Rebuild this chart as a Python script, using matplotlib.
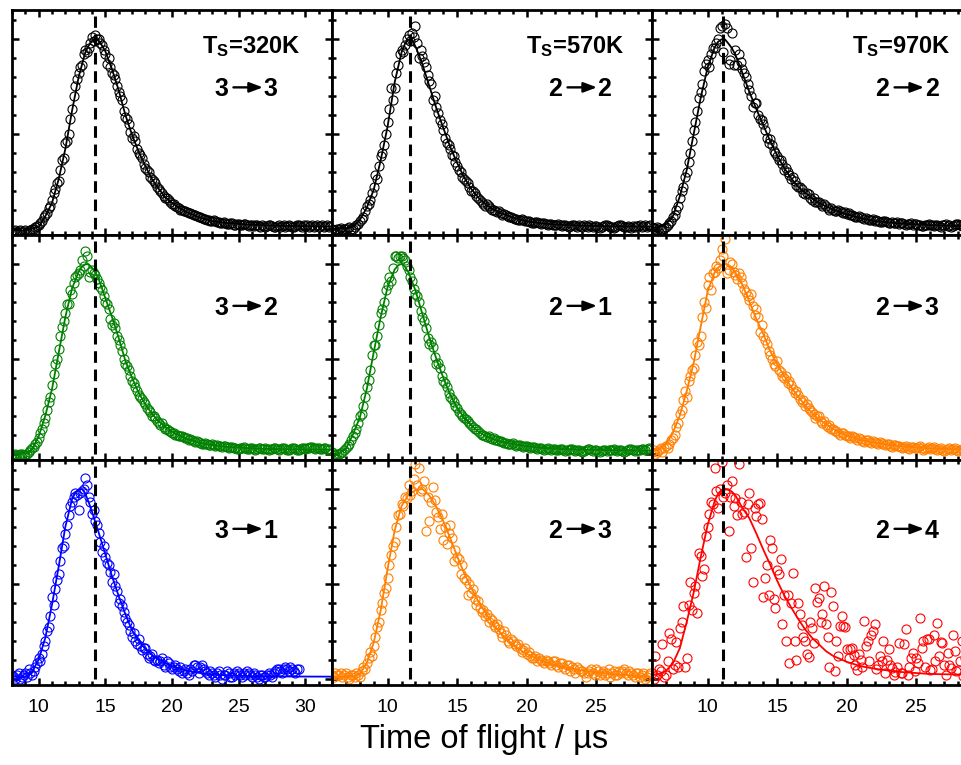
import numpy as np
import matplotlib.pyplot as plt
from matplotlib.ticker import MultipleLocator

plt.rcParams['font.family'] = ['Liberation Sans', 'DejaVu Sans']
plt.rcParams['mathtext.fontset'] = 'custom'
plt.rcParams['mathtext.bf'] = 'Liberation Sans:bold'
plt.rcParams['mathtext.rm'] = 'Liberation Sans'

# ---------------------------
# Layout per column (surface temperature)
# ---------------------------
col_temp = ["320K", "570K", "970K"]
col_xlim = [(8, 32), (6, 29), (6, 29)]
col_peak = [14.2, 11.6, 11.1]          # dashed reference line
col_t0 = [8.0, 6.0, 6.0]               # first time bin
bin_width = 0.125                      # us per time bin

# ---------------------------
# Ts = 320 K column
# ---------------------------
a_label = ("3", "3")
a_y = [
    -0.02, -0.015, -0.01, -0.02, -0.015, -0.01, -0.02, -0.015, -0.01, -0.02, -0.015, -0.005, 0.0, 0.0, 0.01, 0.015,
    0.02, 0.03, 0.04, 0.06, 0.07, 0.08, 0.11, 0.12, 0.15, 0.19, 0.21, 0.24, 0.25, 0.31, 0.36, 0.37,
    0.45, 0.46, 0.50, 0.58, 0.63, 0.70, 0.75, 0.79, 0.82, 0.85, 0.86, 0.92, 0.94, 0.93, 0.95, 0.98,
    1.01, 0.99, 1.02, 1.0, 1.00, 0.98, 0.97, 0.94, 0.92, 0.87, 0.90, 0.85, 0.82, 0.81, 0.79, 0.75,
    0.72, 0.70, 0.68, 0.62, 0.59, 0.58, 0.55, 0.51, 0.48, 0.49, 0.46, 0.42, 0.40, 0.39, 0.37, 0.34,
    0.32, 0.31, 0.30, 0.27, 0.26, 0.25, 0.24, 0.22, 0.21, 0.20, 0.19, 0.17, 0.16, 0.16, 0.15, 0.14,
    0.13, 0.13, 0.12, 0.115, 0.11, 0.10, 0.10, 0.095, 0.09, 0.085, 0.08, 0.08, 0.075, 0.07, 0.07, 0.065,
    0.06, 0.06, 0.055, 0.05, 0.05, 0.045, 0.045, 0.04, 0.04, 0.045, 0.04, 0.035, 0.035, 0.03, 0.03, 0.035,
    0.03, 0.025, 0.025, 0.03, 0.03, 0.02, 0.02, 0.025, 0.025, 0.02, 0.02, 0.025, 0.025, 0.02, 0.015, 0.02,
    0.02, 0.015, 0.02, 0.02, 0.015, 0.01, 0.02, 0.015, 0.01, 0.015, 0.02, 0.02, 0.015, 0.01, 0.01, 0.015,
    0.02, 0.01, 0.015, 0.02, 0.01, 0.015, 0.02, 0.015, 0.01, 0.01, 0.015, 0.02, 0.02, 0.015, 0.01, 0.02,
    0.015, 0.02, 0.01, 0.015, 0.02, 0.01, 0.015, 0.02, 0.01, 0.015, 0.02, 0.01, 0.015, 0.02, 0.01, 0.015,
]
a_fit_t = [8, 9, 9.5, 10, 10.5, 11, 11.5, 12, 12.5, 13, 13.5, 13.75, 14, 14.25, 14.5, 14.75,
           15, 15.5, 16, 16.5, 17, 17.5, 18, 18.5, 19, 19.5, 20, 21, 22, 23, 24, 26, 28, 32]
a_fit_y = [-0.01, -0.01, 0.0, 0.01, 0.065, 0.135, 0.26, 0.42, 0.62, 0.80, 0.93, 0.965, 0.99, 1.0,
           0.99, 0.965, 0.935, 0.84, 0.73, 0.60, 0.495, 0.405, 0.33, 0.26, 0.21, 0.165, 0.135,
           0.09, 0.06, 0.04, 0.03, 0.02, 0.015, 0.01]

d_label = ("3", "2")
d_y = [
    -0.01, -0.005, 0.0, -0.01, -0.01, 0.0, 0.0, -0.005, -0.005, 0.0, 0.01, 0.02, 0.03, 0.035, 0.05, 0.06,
    0.08, 0.11, 0.13, 0.16, 0.19, 0.23, 0.27, 0.30, 0.36, 0.42, 0.47, 0.50, 0.55, 0.62, 0.67, 0.70,
    0.74, 0.79, 0.79, 0.86, 0.84, 0.90, 0.93, 0.94, 0.95, 0.97, 1.02, 0.99, 1.07, 1.04, 0.93, 0.96,
    0.97, 0.95, 0.94, 0.92, 0.90, 0.88, 0.86, 0.83, 0.80, 0.79, 0.76, 0.71, 0.68, 0.69, 0.66, 0.62,
    0.60, 0.57, 0.54, 0.50, 0.47, 0.46, 0.44, 0.41, 0.38, 0.37, 0.35, 0.33, 0.31, 0.30, 0.29, 0.27,
    0.26, 0.24, 0.23, 0.22, 0.20, 0.20, 0.19, 0.17, 0.16, 0.15, 0.16, 0.14, 0.13, 0.13, 0.12, 0.12,
    0.11, 0.11, 0.10, 0.10, 0.09, 0.095, 0.09, 0.085, 0.08, 0.08, 0.07, 0.075, 0.07, 0.065, 0.06, 0.065,
    0.06, 0.055, 0.05, 0.05, 0.055, 0.05, 0.045, 0.045, 0.05, 0.045, 0.04, 0.045, 0.04, 0.04, 0.035, 0.04,
    0.04, 0.035, 0.03, 0.035, 0.035, 0.03, 0.03, 0.025, 0.025, 0.03, 0.03, 0.035, 0.03, 0.025, 0.025, 0.03,
    0.03, 0.025, 0.02, 0.025, 0.03, 0.03, 0.025, 0.025, 0.03, 0.025, 0.02, 0.025, 0.025, 0.03, 0.03, 0.025,
    0.02, 0.025, 0.03, 0.03, 0.025, 0.02, 0.02, 0.025, 0.03, 0.03, 0.025, 0.02, 0.02, 0.025, 0.03, 0.03,
    0.025, 0.03, 0.03, 0.035, 0.035, 0.03, 0.025, 0.03, 0.03, 0.025, 0.025, 0.03, 0.03, 0.025, 0.02, 0.025,
]
d_fit_t = [8, 9, 9.5, 10, 10.5, 11, 11.5, 12, 12.5, 13, 13.25, 13.5, 13.75, 14, 14.25, 14.5,
           15, 15.5, 16, 16.5, 17, 17.5, 18, 18.5, 19, 19.5, 20, 21, 22, 23, 24, 26, 28, 32]
d_fit_y = [0.0, 0.0, 0.02, 0.09, 0.20, 0.34, 0.53, 0.72, 0.87, 0.96, 0.985, 0.998, 0.998, 0.98,
           0.955, 0.92, 0.82, 0.72, 0.61, 0.49, 0.40, 0.32, 0.26, 0.21, 0.17, 0.14, 0.115,
           0.08, 0.058, 0.045, 0.036, 0.027, 0.023, 0.02]

g_label = ("3", "1")
g_y = [
    0.02, 0.01, 0.0, 0.02, 0.03, 0.0, 0.01, 0.02, 0.03, 0.01, 0.05, 0.03, 0.02, 0.04, 0.06, 0.08,
    0.11, 0.09, 0.13, 0.17, 0.20, 0.25, 0.27, 0.33, 0.43, 0.39, 0.47, 0.52, 0.55, 0.62, 0.69, 0.70,
    0.76, 0.81, 0.86, 0.91, 0.93, 0.96, 0.98, 0.97, 0.89, 0.98, 0.99, 1.00, 1.06, 1.02, 0.96, 0.93,
    0.87, 0.89, 0.83, 0.81, 0.77, 0.72, 0.67, 0.70, 0.64, 0.61, 0.60, 0.56, 0.51, 0.55, 0.49, 0.46,
    0.40, 0.42, 0.38, 0.35, 0.32, 0.30, 0.28, 0.25, 0.22, 0.24, 0.20, 0.18, 0.21, 0.17, 0.15, 0.16,
    0.16, 0.13, 0.11, 0.12, 0.13, 0.10, 0.09, 0.10, 0.08, 0.09, 0.11, 0.07, 0.06, 0.09, 0.08, 0.06,
    0.05, 0.06, 0.07, 0.05, 0.04, 0.06, 0.03, 0.04, 0.05, 0.03, 0.02, 0.05, 0.04, 0.07, 0.07, 0.06,
    0.03, 0.06, 0.07, 0.05, 0.04, 0.03, 0.02, 0.04, 0.03, 0.02, 0.01, 0.03, 0.04, 0.02, 0.0, 0.02,
    0.02, 0.04, 0.03, 0.01, 0.01, 0.03, 0.02, 0.04, 0.03, 0.02, 0.01, 0.03, 0.02, 0.04, 0.03, 0.02,
    0.01, 0.03, 0.02, 0.01, 0.0, 0.02, 0.02, 0.01, 0.01, 0.02, 0.03, 0.02, 0.01, 0.03, 0.04, 0.05,
    0.05, 0.04, 0.03, 0.05, 0.06, 0.05, 0.04, 0.06, 0.05, 0.04, 0.03, 0.05, 0.05,
]
g_fit_t = [8, 9, 9.5, 10, 10.5, 11, 11.5, 12, 12.5, 12.75, 13, 13.25, 13.5, 13.75, 14, 14.5,
           15, 15.5, 16, 16.5, 17, 17.5, 18, 18.5, 19, 20, 21, 22, 23, 24, 26, 28, 32]
g_fit_y = [0.01, 0.01, 0.035, 0.10, 0.215, 0.39, 0.59, 0.80, 0.945, 0.98, 0.995, 1.0, 0.975,
           0.93, 0.88, 0.77, 0.655, 0.54, 0.435, 0.34, 0.255, 0.20, 0.155, 0.125, 0.10, 0.065,
           0.043, 0.03, 0.021, 0.017, 0.013, 0.011, 0.01]

# ---------------------------
# Ts = 570 K column
# ---------------------------
b_label = ("2", "2")
b_y = [
    0.0, -0.005, -0.01, 0.0, 0.0, 0.005, -0.005, 0.0, 0.0, 0.005, 0.01, 0.0, 0.0, 0.01, 0.02, 0.025,
    0.04, 0.05, 0.06, 0.09, 0.12, 0.13, 0.15, 0.19, 0.22, 0.28, 0.26, 0.33, 0.38, 0.40, 0.44, 0.50,
    0.56, 0.63, 0.74, 0.68, 0.74, 0.82, 0.86, 0.92, 0.94, 0.93, 0.97, 1.0, 1.02, 0.99, 1.03, 1.01,
    1.07, 0.98, 0.90, 0.94, 0.91, 0.88, 0.85, 0.81, 0.78, 0.76, 0.68, 0.70, 0.64, 0.61, 0.57, 0.55,
    0.52, 0.48, 0.45, 0.44, 0.42, 0.39, 0.38, 0.35, 0.33, 0.31, 0.30, 0.27, 0.26, 0.25, 0.24, 0.22,
    0.20, 0.20, 0.19, 0.17, 0.16, 0.15, 0.14, 0.13, 0.12, 0.13, 0.12, 0.11, 0.10, 0.10, 0.09, 0.085,
    0.09, 0.08, 0.07, 0.075, 0.07, 0.065, 0.06, 0.06, 0.055, 0.05, 0.05, 0.045, 0.045, 0.05, 0.045, 0.04,
    0.04, 0.04, 0.035, 0.03, 0.03, 0.035, 0.035, 0.03, 0.025, 0.03, 0.03, 0.025, 0.02, 0.025, 0.025, 0.02,
    0.02, 0.02, 0.025, 0.02, 0.015, 0.02, 0.02, 0.015, 0.01, 0.015, 0.02, 0.02, 0.015, 0.01, 0.02, 0.015,
    0.01, 0.02, 0.015, 0.01, 0.02, 0.015, 0.01, 0.015, 0.015, 0.01, 0.005, 0.01, 0.015, 0.02, 0.02, 0.015,
    0.01, 0.01, 0.005, 0.01, 0.015, 0.02, 0.02, 0.015, 0.01, 0.01, 0.015, 0.01, 0.005, 0.015, 0.01, 0.015,
    0.015, 0.02, 0.01, 0.015, 0.02, 0.01, 0.015, 0.02,
]
b_fit_t = [6, 7, 7.5, 8, 8.5, 9, 9.5, 10, 10.5, 11, 11.25, 11.5, 11.75, 12, 12.25, 12.5, 13,
           13.5, 14, 14.5, 15, 15.5, 16, 16.5, 17, 17.5, 18, 19, 20, 21, 22, 24, 26, 29]
b_fit_y = [0.0, 0.0, 0.01, 0.045, 0.11, 0.205, 0.36, 0.54, 0.77, 0.93, 0.975, 0.997, 0.995,
           0.96, 0.915, 0.865, 0.75, 0.635, 0.53, 0.43, 0.345, 0.27, 0.21, 0.165, 0.13, 0.105,
           0.085, 0.058, 0.038, 0.028, 0.021, 0.015, 0.012, 0.01]

e_label = ("2", "1")
e_y = [
    0.01, 0.0, -0.005, 0.0, 0.0, 0.005, 0.01, 0.02, 0.03, 0.04, 0.05, 0.07, 0.09, 0.11, 0.13, 0.16,
    0.20, 0.21, 0.25, 0.30, 0.35, 0.39, 0.44, 0.52, 0.57, 0.57, 0.62, 0.68, 0.74, 0.76, 0.80, 0.86,
    0.89, 0.93, 0.91, 0.98, 1.04, 1.04, 1.03, 1.04, 1.04, 1.03, 1.02, 0.99, 0.97, 0.93, 0.91, 0.87,
    0.84, 0.83, 0.80, 0.75, 0.72, 0.70, 0.66, 0.61, 0.58, 0.59, 0.56, 0.51, 0.47, 0.48, 0.45, 0.41,
    0.38, 0.37, 0.35, 0.32, 0.30, 0.29, 0.27, 0.25, 0.24, 0.22, 0.21, 0.20, 0.19, 0.18, 0.17, 0.16,
    0.15, 0.14, 0.13, 0.13, 0.12, 0.11, 0.10, 0.10, 0.095, 0.085, 0.09, 0.08, 0.075, 0.08, 0.07, 0.07,
    0.065, 0.065, 0.06, 0.055, 0.055, 0.05, 0.05, 0.05, 0.055, 0.045, 0.04, 0.045, 0.045, 0.04, 0.035, 0.04,
    0.04, 0.035, 0.03, 0.035, 0.035, 0.03, 0.025, 0.03, 0.03, 0.025, 0.02, 0.025, 0.03, 0.025, 0.02, 0.025,
    0.025, 0.02, 0.02, 0.025, 0.025, 0.02, 0.015, 0.02, 0.02, 0.025, 0.025, 0.02, 0.015, 0.02, 0.02, 0.015,
    0.01, 0.015, 0.02, 0.025, 0.025, 0.02, 0.015, 0.02, 0.02, 0.015, 0.01, 0.015, 0.02, 0.02, 0.015, 0.02,
    0.02, 0.02, 0.025, 0.02, 0.015, 0.02, 0.02, 0.015, 0.01, 0.015, 0.02, 0.025, 0.025, 0.02, 0.015, 0.02,
    0.02, 0.02, 0.025, 0.025, 0.02, 0.025, 0.03, 0.025,
]
e_fit_t = [6, 6.5, 7, 7.5, 8, 8.5, 9, 9.5, 10, 10.5, 10.75, 11, 11.25, 11.5, 12, 12.5, 13,
           13.5, 14, 14.5, 15, 15.5, 16, 16.5, 17, 17.5, 18, 19, 20, 21, 22, 24, 29]
e_fit_y = [0.0, 0.0, 0.025, 0.10, 0.19, 0.34, 0.535, 0.72, 0.88, 0.97, 0.993, 1.0, 0.985,
           0.955, 0.86, 0.735, 0.61, 0.50, 0.40, 0.31, 0.24, 0.19, 0.15, 0.117, 0.095, 0.078,
           0.066, 0.05, 0.038, 0.03, 0.025, 0.02, 0.015]

h_label = ("2", "3")
h_y = [
    0.02, 0.01, 0.03, 0.02, 0.02, 0.03, 0.01, 0.02, 0.03, 0.01, 0.0, 0.02, 0.02, 0.01, 0.03, 0.02,
    0.01, 0.04, 0.06, 0.05, 0.08, 0.11, 0.14, 0.12, 0.17, 0.22, 0.27, 0.30, 0.36, 0.40, 0.45, 0.48,
    0.53, 0.60, 0.65, 0.70, 0.72, 0.80, 0.86, 0.87, 0.92, 0.91, 0.96, 0.95, 1.02, 0.97, 0.99, 1.05,
    1.13, 1.02, 1.11, 0.99, 1.00, 1.04, 0.78, 0.96, 0.83, 0.93, 1.01, 0.94, 0.88, 0.85, 0.79, 0.87,
    0.73, 0.80, 0.71, 0.77, 0.81, 0.74, 0.62, 0.68, 0.64, 0.63, 0.55, 0.60, 0.53, 0.52, 0.44, 0.50,
    0.45, 0.47, 0.42, 0.39, 0.41, 0.37, 0.35, 0.36, 0.33, 0.34, 0.30, 0.32, 0.31, 0.28, 0.27, 0.29,
    0.26, 0.24, 0.22, 0.25, 0.23, 0.20, 0.19, 0.21, 0.20, 0.18, 0.17, 0.18, 0.16, 0.14, 0.15, 0.16,
    0.13, 0.14, 0.12, 0.11, 0.11, 0.12, 0.09, 0.11, 0.10, 0.09, 0.08, 0.10, 0.09, 0.08, 0.07, 0.09,
    0.09, 0.07, 0.06, 0.08, 0.08, 0.06, 0.05, 0.07, 0.07, 0.04, 0.06, 0.05, 0.03, 0.06, 0.05, 0.04,
    0.04, 0.03, 0.01, 0.03, 0.04, 0.05, 0.03, 0.02, 0.05, 0.04, 0.02, 0.03, 0.04, 0.02, 0.03, 0.05,
    0.01, 0.03, 0.04, 0.02, 0.02, 0.04, 0.03, 0.04, 0.05, 0.03, 0.02, 0.04, 0.03, 0.02, 0.01, 0.03,
    0.03, 0.01, 0.02, 0.03, 0.0, 0.01, 0.02, 0.03,
]
h_fit_t = [6, 7.5, 8, 8.5, 9, 9.5, 10, 10.5, 11, 11.5, 12, 12.5, 13, 13.5, 14, 14.5, 15,
           15.5, 16, 16.5, 17, 17.5, 18, 18.5, 19, 19.5, 20, 21, 22, 23, 24, 25, 26, 27, 29]
h_fit_y = [0.01, 0.01, 0.025, 0.08, 0.19, 0.36, 0.58, 0.78, 0.91, 0.97, 0.993, 1.0, 0.965,
           0.905, 0.83, 0.74, 0.645, 0.555, 0.48, 0.41, 0.35, 0.295, 0.25, 0.21, 0.18, 0.152,
           0.13, 0.095, 0.072, 0.055, 0.042, 0.032, 0.025, 0.019, 0.01]

# ---------------------------
# Ts = 970 K column
# ---------------------------
c_label = ("2", "2")
c_y = [
    0.01, 0.005, 0.0, 0.01, 0.005, 0.0, 0.0, 0.005, 0.01, 0.02, 0.03, 0.04, 0.06, 0.07, 0.10, 0.12,
    0.16, 0.20, 0.22, 0.27, 0.30, 0.35, 0.40, 0.46, 0.52, 0.56, 0.62, 0.69, 0.72, 0.76, 0.83, 0.87,
    0.89, 0.85, 0.92, 0.95, 0.95, 0.98, 1.00, 1.06, 1.07, 0.93, 1.08, 1.06, 0.87, 0.89, 1.03, 0.86,
    0.94, 0.86, 0.92, 0.88, 0.84, 0.82, 0.80, 0.76, 0.73, 0.70, 0.64, 0.66, 0.66, 0.60, 0.58, 0.57,
    0.55, 0.52, 0.48, 0.45, 0.47, 0.44, 0.41, 0.40, 0.38, 0.36, 0.36, 0.34, 0.31, 0.32, 0.30, 0.28,
    0.26, 0.27, 0.25, 0.23, 0.22, 0.22, 0.21, 0.19, 0.18, 0.19, 0.18, 0.16, 0.15, 0.16, 0.14, 0.14,
    0.14, 0.13, 0.12, 0.13, 0.12, 0.11, 0.10, 0.11, 0.10, 0.095, 0.09, 0.10, 0.09, 0.085, 0.08, 0.085,
    0.075, 0.08, 0.07, 0.07, 0.065, 0.06, 0.06, 0.065, 0.06, 0.055, 0.05, 0.055, 0.05, 0.045, 0.045, 0.05,
    0.04, 0.045, 0.04, 0.035, 0.035, 0.04, 0.04, 0.035, 0.03, 0.03, 0.035, 0.03, 0.03, 0.035, 0.025, 0.03,
    0.03, 0.025, 0.02, 0.025, 0.025, 0.03, 0.02, 0.025, 0.025, 0.02, 0.02, 0.015, 0.015, 0.02, 0.02, 0.025,
    0.02, 0.02, 0.015, 0.02, 0.02, 0.015, 0.01, 0.02, 0.02, 0.025, 0.015, 0.02, 0.01, 0.015, 0.02, 0.025,
    0.025, 0.02, 0.015, 0.02, 0.02, 0.015, 0.01, 0.02,
]
c_fit_t = [6, 6.5, 7, 7.5, 8, 8.5, 9, 9.5, 10, 10.5, 10.75, 11, 11.25, 11.5, 11.75, 12, 12.5,
           13, 13.5, 14, 14.5, 15, 15.5, 16, 16.5, 17, 17.5, 18, 19, 20, 21, 22, 23, 24, 26, 29]
c_fit_y = [0.005, 0.008, 0.022, 0.065, 0.17, 0.31, 0.50, 0.69, 0.85, 0.955, 0.985, 0.998,
           0.997, 0.975, 0.95, 0.915, 0.82, 0.72, 0.63, 0.545, 0.46, 0.385, 0.32, 0.265, 0.22,
           0.19, 0.16, 0.135, 0.10, 0.075, 0.055, 0.04, 0.032, 0.026, 0.018, 0.012]

f_label = ("2", "3")
f_y = [
    0.01, 0.02, 0.0, 0.01, 0.02, 0.03, 0.01, 0.03, 0.04, 0.03, 0.05, 0.07, 0.08, 0.10, 0.14, 0.16,
    0.21, 0.23, 0.28, 0.33, 0.30, 0.38, 0.41, 0.44, 0.45, 0.52, 0.59, 0.57, 0.62, 0.72, 0.80, 0.77,
    0.89, 0.93, 0.86, 0.95, 0.96, 0.99, 0.98, 1.02, 1.08, 1.04, 1.13, 0.95, 0.97, 1.01, 1.00, 0.96,
    0.94, 0.92, 0.95, 0.93, 0.90, 0.87, 0.85, 0.83, 0.81, 0.84, 0.78, 0.73, 0.76, 0.72, 0.64, 0.68,
    0.62, 0.60, 0.58, 0.54, 0.52, 0.50, 0.47, 0.46, 0.49, 0.44, 0.43, 0.41, 0.40, 0.41, 0.37, 0.38,
    0.36, 0.34, 0.32, 0.33, 0.31, 0.29, 0.27, 0.28, 0.25, 0.26, 0.24, 0.23, 0.22, 0.21, 0.19, 0.20,
    0.20, 0.17, 0.16, 0.17, 0.15, 0.14, 0.15, 0.13, 0.13, 0.12, 0.12, 0.11, 0.10, 0.11, 0.11, 0.10,
    0.09, 0.095, 0.08, 0.09, 0.085, 0.08, 0.07, 0.08, 0.075, 0.065, 0.06, 0.07, 0.07, 0.06, 0.055, 0.065,
    0.06, 0.055, 0.05, 0.06, 0.055, 0.05, 0.045, 0.05, 0.05, 0.04, 0.035, 0.045, 0.045, 0.04, 0.04, 0.035,
    0.03, 0.035, 0.04, 0.03, 0.025, 0.035, 0.035, 0.03, 0.03, 0.035, 0.04, 0.03, 0.02, 0.025, 0.03, 0.035,
    0.025, 0.03, 0.035, 0.025, 0.02, 0.025, 0.03, 0.02, 0.015, 0.02, 0.025, 0.03, 0.02, 0.025, 0.03, 0.02,
    0.015, 0.02, 0.025, 0.02, 0.01, 0.025, 0.035, 0.02,
]
f_fit_t = [6, 6.5, 7, 7.5, 8, 8.5, 9, 9.5, 10, 10.5, 10.75, 11, 11.25, 11.5, 11.75, 12, 12.5,
           13, 13.5, 14, 14.5, 15, 15.5, 16, 16.5, 17, 17.5, 18, 18.5, 19, 20, 21, 22, 23, 24,
           26, 29]
f_fit_y = [0.01, 0.025, 0.05, 0.11, 0.20, 0.33, 0.48, 0.67, 0.855, 0.955, 0.98, 0.995, 1.0,
           0.995, 0.975, 0.955, 0.89, 0.80, 0.71, 0.63, 0.54, 0.47, 0.41, 0.35, 0.30, 0.255,
           0.215, 0.18, 0.155, 0.13, 0.095, 0.072, 0.058, 0.046, 0.038, 0.027, 0.02]

i_label = ("2", "4")
i_y = [
    0.03, 0.0, 0.12, 0.02, 0.05, 0.04, 0.18, 0.01, 0.02, 0.09, 0.24, 0.21, 0.05, 0.07, 0.195, 0.06,
    0.265, 0.30, 0.38, 0.06, 0.107, 0.39, 0.51, 0.36, 0.45, 0.49, 0.345, 0.66, 0.645, 0.54, 0.58, 0.75,
    0.80, 0.87, 0.93, 0.92, 1.11, 0.99, 0.90, 1.00, 1.14, 0.96, 0.98, 1.02, 0.78, 0.96, 1.04, 0.91,
    0.95, 0.86, 1.13, 0.93, 0.87, 0.88, 0.64, 0.92, 0.98, 0.69, 0.51, 0.90, 0.857, 0.92, 0.925, 0.84,
    0.43, 0.53, 0.60, 0.44, 0.73, 0.69, 0.42, 0.37, 0.575, 0.55, 0.63, 0.29, 0.44, 0.20, 0.44, 0.08,
    0.40, 0.555, 0.20, 0.10, 0.40, 0.34, 0.28, 0.22, 0.20, 0.13, 0.115, 0.30, 0.265, 0.187, 0.48, 0.405,
    0.425, 0.30, 0.34, 0.49, 0.29, 0.22, 0.063, 0.455, 0.38, 0.042, 0.20, 0.12, 0.275, 0.33, 0.275, 0.27,
    0.155, 0.11, 0.155, 0.16, 0.125, 0.07, 0.045, 0.13, 0.10, 0.06, 0.305, 0.17, 0.20, 0.09, 0.23, 0.25,
    0.29, 0.05, 0.07, 0.12, 0.09, 0.20, 0.03, 0.10, 0.155, 0.07, 0.055, 0.02, 0.037, 0.06, 0.19, 0.03,
    0.03, 0.18, 0.26, 0.02, 0.06, 0.11, 0.135, 0.04, 0.107, 0.08, 0.32, 0.16, 0.20, 0.06, 0.21, 0.21,
    0.045, 0.05, 0.23, 0.09, 0.293, 0.12, 0.195, 0.19, 0.072, 0.02, 0.135, 0.07, 0.055, 0.23, 0.145, 0.04,
    0.045, 0.09, 0.20, 0.015, 0.11, 0.16, 0.06, 0.04,
]
i_fit_t = [6, 6.5, 7, 7.5, 8, 8.5, 9, 9.5, 10, 10.5, 10.75, 11, 11.25, 11.5, 11.75, 12, 12.5,
           13, 13.5, 14, 14.5, 15, 15.5, 16, 16.5, 17, 17.5, 18, 18.5, 19, 20, 21, 22, 23, 24,
           26, 29]
i_fit_y = [0.02, 0.025, 0.04, 0.08, 0.16, 0.30, 0.455, 0.64, 0.81, 0.935, 0.975, 0.995, 1.0,
           0.998, 0.985, 0.965, 0.90, 0.845, 0.765, 0.68, 0.60, 0.515, 0.44, 0.375, 0.315,
           0.26, 0.215, 0.18, 0.145, 0.12, 0.088, 0.065, 0.052, 0.042, 0.034, 0.024, 0.02]

# rows x columns: (label, data, fit t, fit y, colour)
panels = [
    [(a_label, a_y, a_fit_t, a_fit_y, "black"),
     (b_label, b_y, b_fit_t, b_fit_y, "black"),
     (c_label, c_y, c_fit_t, c_fit_y, "black")],
    [(d_label, d_y, d_fit_t, d_fit_y, "#008000"),
     (e_label, e_y, e_fit_t, e_fit_y, "#008000"),
     (f_label, f_y, f_fit_t, f_fit_y, "#ff7f00")],
    [(g_label, g_y, g_fit_t, g_fit_y, "#0000ff"),
     (h_label, h_y, h_fit_t, h_fit_y, "#ff7f00"),
     (i_label, i_y, i_fit_t, i_fit_y, "#ff0000")],
]

# ---------------------------
# Figure
# ---------------------------
fig = plt.figure(figsize=(9.62, 7.65), dpi=100)

ax_w = 320 / 962
ax_h = 224.7 / 765
lefts = [12 / 962, 332 / 962, 652 / 962]
bottoms = [530 / 765, 305 / 765, 80 / 765]
label_x = [0.728, 0.772, 0.794]
temp_x = [0.747, 0.76, 0.778]
label_base = [0.617, 0.646, 0.655]


def transition(ax, pair, cx, base):
    kw = dict(transform=ax.transAxes, va="baseline", fontsize=18, fontweight="bold")
    ax.text(cx - 0.052, base, pair[0], ha="right", **kw)
    ax.text(cx + 0.058, base, pair[1], ha="left", **kw)
    ya = base + 0.04
    ax.annotate("", xy=(cx + 0.056, ya), xytext=(cx - 0.036, ya), xycoords="axes fraction",
                arrowprops=dict(arrowstyle="-|>,head_length=0.8,head_width=0.3", lw=1.7,
                                color="black", shrinkA=0, shrinkB=0, mutation_scale=10))


for r in range(3):
    for c in range(3):
        pair, yv, ft, fy, color = panels[r][c]
        ax = fig.add_axes([lefts[c], bottoms[r], ax_w, ax_h])
        t = col_t0[c] + bin_width * np.arange(len(yv))

        ax.plot(t, yv, "o", ms=6.5, mfc="none", mec=color, mew=0.8)
        ax.plot(ft, fy, "-", color=color, lw=1.3)
        ax.plot([col_peak[c], col_peak[c]], [0, 1.12], color="black", lw=2.2,
                dashes=(3.8, 2.2), zorder=5)

        ax.set_xlim(*col_xlim[c])
        ax.set_ylim(-0.034, 1.151)
        ax.xaxis.set_major_locator(MultipleLocator(5))
        ax.xaxis.set_minor_locator(MultipleLocator(1))
        ax.yaxis.set_major_locator(MultipleLocator(0.5))
        ax.yaxis.set_minor_locator(MultipleLocator(0.1))
        ax.tick_params(which="both", direction="in", top=True, right=True, width=1.8,
                       labelleft=False, labelbottom=(r == 2), labelsize=14, pad=10)
        ax.tick_params(which="major", length=5)
        ax.tick_params(which="minor", length=3)
        for s in ax.spines.values():
            s.set_linewidth(2)

        transition(ax, pair, label_x[c], label_base[r])
        if r == 0:
            ax.text(temp_x[c], 0.81, r"$\mathbf{T_S}$=" + col_temp[c], transform=ax.transAxes,
                    ha="center", va="baseline", fontsize=17, fontweight="bold")

fig.text(0.503, 0.022, "Time of flight / \u00b5s", ha="center", va="baseline", fontsize=23.5)

fig.savefig("out.png", dpi=100)
